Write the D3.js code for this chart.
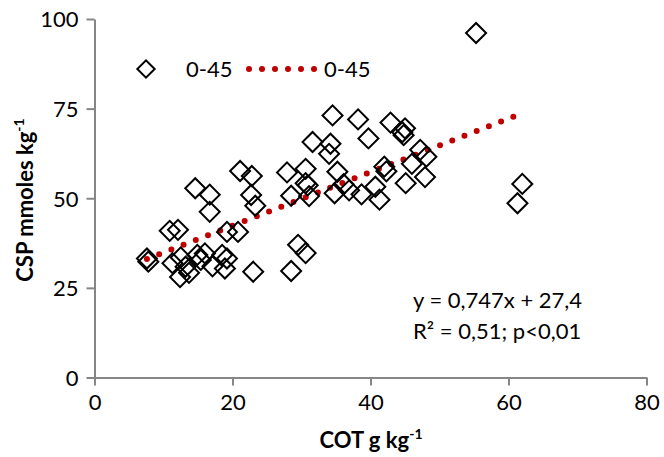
<!DOCTYPE html>
<html>
<head>
<meta charset="utf-8">
<script src="https://cdn.jsdelivr.net/npm/d3@7"></script>
<style>
  body { margin: 0; background: #fff; }
  svg text { font-family: Lato, "Open Sans", sans-serif; fill: #000; }
</style>
</head>
<body>
<div id="chart"></div>
<script>
// COT (g kg-1) vs CSP (mmoles kg-1), layer 0-45
var cot = [55.3, 62.0, 61.3, 34.5, 38.2, 39.7, 42.9, 45.0, 44.8, 31.6,
           34.2, 34.0, 47.2, 48.1, 46.0, 27.9, 30.6, 30.6, 35.2, 42.0,
           42.3, 45.1, 47.9, 36.1, 40.7, 28.5, 31.1, 34.8, 36.9, 38.7,
           41.3, 29.5, 30.6, 28.5, 14.6, 16.7, 16.7, 22.7, 23.3, 21.1,
           22.8, 10.9, 12.1, 19.2, 20.8, 7.6, 7.8, 11.3, 12.5, 13.2,
           12.4, 13.7, 14.9, 16.0, 15.4, 17.1, 18.5, 19.2, 18.9, 23.0,
           30.9, 44.6];
var csp = [96.1, 54.0, 48.6, 73.1, 72.0, 66.7, 71.1, 69.5, 67.6, 65.7,
           65.2, 62.4, 63.5, 61.6, 59.6, 57.2, 58.2, 54.2, 57.4, 58.8,
           57.5, 54.2, 55.9, 53.9, 53.2, 50.7, 50.6, 51.4, 52.2, 51.1,
           49.6, 37.0, 34.7, 29.7, 52.8, 51.0, 46.2, 50.9, 47.9, 57.6,
           56.2, 40.9, 41.2, 40.6, 40.6, 33.2, 32.3, 31.9, 33.5, 30.9,
           28.0, 29.2, 34.2, 34.6, 32.8, 31.0, 34.2, 33.2, 30.4, 29.5,
           53.6, 68.4];
var xTicks = [0, 20, 40, 60, 80];
var yTicks = [0, 25, 50, 75, 100];
var slope = 0.747, intercept = 27.4;
var seriesName = "0-45";
var eqLines = ["y = 0,747x + 27,4", "R² = 0,51; p<0,01"];

var width = 664, height = 457;
var svg = d3.select("#chart").append("svg")
    .attr("width", width).attr("height", height);

var x = d3.scaleLinear().domain([0, 80]).range([94.5, 646.5]);
var y = d3.scaleLinear().domain([0, 100]).range([377.5, 19]);
var axisColor = "#868686";

// axes
var xAxis = svg.append("g").attr("transform", "translate(0," + y(0) + ")")
    .call(d3.axisBottom(x).tickValues(xTicks).tickSize(8).tickSizeOuter(0).tickPadding(9));
var yAxis = svg.append("g").attr("transform", "translate(" + x(0) + ",0)")
    .call(d3.axisLeft(y).tickValues(yTicks).tickSize(8).tickSizeOuter(0).tickPadding(8));
[xAxis, yAxis].forEach(function (a) {
    a.select(".domain").attr("stroke", axisColor).attr("stroke-width", 2);
    a.selectAll(".tick line").attr("stroke", axisColor).attr("stroke-width", 2);
    a.selectAll(".tick text").style("font-size", "22px").attr("fill", "#000");
});
yAxis.selectAll(".tick text").attr("dy", "0.36em");

// trendline over data extent
var xr = d3.extent(cot);
svg.append("line")
    .attr("x1", x(xr[0])).attr("y1", y(slope * xr[0] + intercept))
    .attr("x2", x(xr[1])).attr("y2", y(slope * xr[1] + intercept))
    .attr("stroke", "#c00000").attr("stroke-width", 6)
    .attr("stroke-linecap", "round").attr("stroke-dasharray", "0 13.1");

// points
var diamond = d3.symbol().type(d3.symbolSquare).size(200);
svg.append("g").selectAll("path")
    .data(cot.map(function (d, i) { return [d, csp[i]]; }))
    .enter().append("path")
    .attr("d", diamond)
    .attr("transform", function (d) { return "translate(" + x(d[0]) + "," + y(d[1]) + ") rotate(45)"; })
    .attr("fill", "none").attr("stroke", "#000").attr("stroke-width", 2);

// legend
var lg = svg.append("g");
lg.append("path").attr("d", d3.symbol().type(d3.symbolSquare).size(150))
    .attr("transform", "translate(146,69) rotate(45)")
    .attr("fill", "none").attr("stroke", "#000").attr("stroke-width", 2);
lg.append("text").attr("x", 186).attr("y", 77).style("font-size", "22px").text(seriesName);
lg.append("line").attr("x1", 249).attr("x2", 316).attr("y1", 69).attr("y2", 69)
    .attr("stroke", "#c00000").attr("stroke-width", 6)
    .attr("stroke-linecap", "round").attr("stroke-dasharray", "0 13");
lg.append("text").attr("x", 324).attr("y", 77).style("font-size", "22px").text(seriesName);

// equation
svg.selectAll(".eq").data(eqLines).enter().append("text")
    .attr("class", "eq")
    .attr("x", 413).attr("y", function (d, i) { return 308 + i * 31; })
    .style("font-size", "22px").text(function (d) { return d; });

// axis titles
var xt = svg.append("text").attr("x", 371).attr("y", 448)
    .attr("text-anchor", "middle").style("font-size", "22px").style("font-weight", "bold");
xt.append("tspan").text("COT g kg");
xt.append("tspan").attr("dy", -9).style("font-size", "14px").text("-1");

var yt = svg.append("text").attr("transform", "translate(33,200) rotate(-90)")
    .attr("text-anchor", "middle").style("font-size", "22px").style("font-weight", "bold");
yt.append("tspan").text("CSP mmoles kg");
yt.append("tspan").attr("dy", -9).style("font-size", "14px").text("-1");
</script>
</body>
</html>
